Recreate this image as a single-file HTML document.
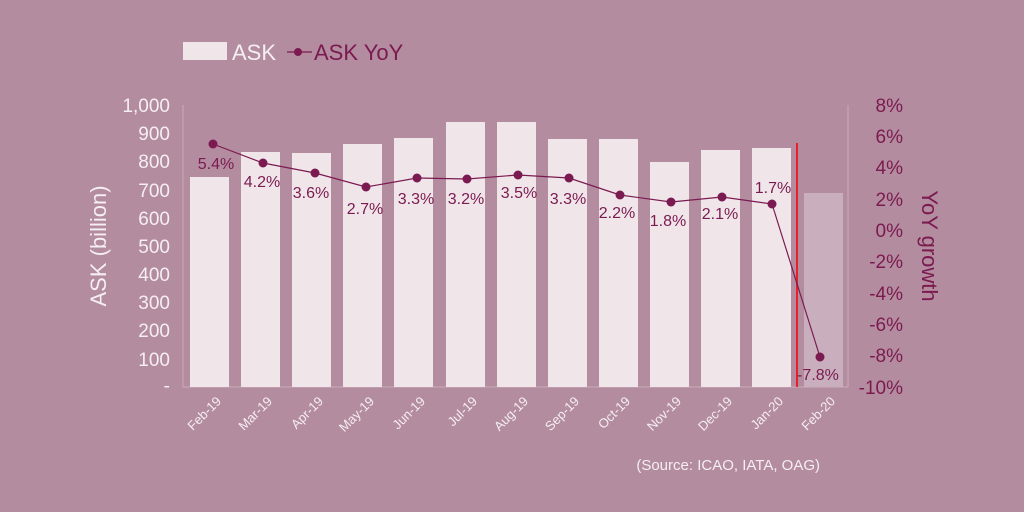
<!DOCTYPE html><html><head><style>body{margin:0}svg{display:block}text{font-family:"Liberation Sans",sans-serif}</style></head><body>
<svg width="1024" height="512" viewBox="0 0 1024 512" xmlns="http://www.w3.org/2000/svg">
<rect width="1024" height="512" fill="#b48c9f"/>
<rect x="183" y="42" width="44" height="18" fill="#f0e6ea"/>
<text x="232" y="60" font-size="22" fill="#f5eef2">ASK</text>
<line x1="287" y1="52" x2="312" y2="52" stroke="#7b1a50" stroke-width="1.2"/><circle cx="298" cy="52" r="4" fill="#7b1a50"/>
<text x="314" y="60" font-size="22" fill="#7b1a50">ASK YoY</text>
<g stroke="#c9acba" stroke-width="1">
<line x1="183" y1="105" x2="183" y2="387"/><line x1="848" y1="105" x2="848" y2="387"/><line x1="183" y1="387" x2="848" y2="387"/>
</g>
<g font-size="19" fill="#f5eef2" text-anchor="end">
<text x="170" y="112">1,000</text><text x="170" y="140">900</text><text x="170" y="168">800</text><text x="170" y="197">700</text><text x="170" y="225">600</text><text x="170" y="253">500</text><text x="170" y="281">400</text><text x="170" y="309">300</text><text x="170" y="337">200</text><text x="170" y="366">100</text><text x="170" y="392">-</text>
</g>
<g font-size="19" fill="#7b1a50" text-anchor="end">
<text x="903" y="112">8%</text><text x="903" y="143">6%</text><text x="903" y="174">4%</text><text x="903" y="206">2%</text><text x="903" y="237">0%</text><text x="903" y="268">-2%</text><text x="903" y="300">-4%</text><text x="903" y="331">-6%</text><text x="903" y="362">-8%</text><text x="903" y="394">-10%</text>
</g>
<text transform="translate(106,246) rotate(-90)" font-size="22" fill="#f5eef2" text-anchor="middle">ASK (billion)</text>
<text transform="translate(922,246) rotate(90)" font-size="22" fill="#7b1a50" text-anchor="middle">YoY growth</text>
<g fill="#f0e6ea">
<rect x="190" y="177" width="39" height="210"/>
<rect x="241" y="152" width="39" height="235"/>
<rect x="292" y="153" width="39" height="234"/>
<rect x="343" y="144" width="39" height="243"/>
<rect x="394" y="138" width="39" height="249"/>
<rect x="446" y="122" width="39" height="265"/>
<rect x="497" y="122" width="39" height="265"/>
<rect x="548" y="139" width="39" height="248"/>
<rect x="599" y="139" width="39" height="248"/>
<rect x="650" y="162" width="39" height="225"/>
<rect x="701" y="150" width="39" height="237"/>
<rect x="752" y="148" width="39" height="239"/>
<rect x="804" y="193" width="39" height="194" fill="#c9afbd"/>
</g>
<line x1="797" y1="143" x2="797" y2="387" stroke="#e8202a" stroke-width="2"/>
<polyline fill="none" stroke="#7b1a50" stroke-width="1.2" points="213,144 263,163 315,173 366,187 417,178 467,179 518,175 569,178 620,195 671,202 722,197 772,204 820,357"/>
<g fill="#7b1a50">
<circle cx="213" cy="144" r="4.5"/><circle cx="263" cy="163" r="4.5"/><circle cx="315" cy="173" r="4.5"/><circle cx="366" cy="187" r="4.5"/><circle cx="417" cy="178" r="4.5"/><circle cx="467" cy="179" r="4.5"/><circle cx="518" cy="175" r="4.5"/><circle cx="569" cy="178" r="4.5"/><circle cx="620" cy="195" r="4.5"/><circle cx="671" cy="202" r="4.5"/><circle cx="722" cy="197" r="4.5"/><circle cx="772" cy="204" r="4.5"/><circle cx="820" cy="357" r="4.5"/>
</g>
<g font-size="16" fill="#7b1a50" text-anchor="middle">
<text x="216" y="169">5.4%</text><text x="262" y="187">4.2%</text><text x="311" y="198">3.6%</text><text x="365" y="214">2.7%</text><text x="416" y="204">3.3%</text><text x="466" y="204">3.2%</text><text x="519" y="198">3.5%</text><text x="568" y="204">3.3%</text><text x="617" y="218">2.2%</text><text x="668" y="226">1.8%</text><text x="720" y="219">2.1%</text><text x="773" y="193">1.7%</text><text x="818" y="380">-7.8%</text>
</g>
<g font-size="13" fill="#f5eef2" text-anchor="end">
<text transform="translate(222,402) rotate(-45)">Feb-19</text>
<text transform="translate(273,402) rotate(-45)">Mar-19</text>
<text transform="translate(324,402) rotate(-45)">Apr-19</text>
<text transform="translate(375,402) rotate(-45)">May-19</text>
<text transform="translate(426,402) rotate(-45)">Jun-19</text>
<text transform="translate(478,402) rotate(-45)">Jul-19</text>
<text transform="translate(529,402) rotate(-45)">Aug-19</text>
<text transform="translate(580,402) rotate(-45)">Sep-19</text>
<text transform="translate(631,402) rotate(-45)">Oct-19</text>
<text transform="translate(682,402) rotate(-45)">Nov-19</text>
<text transform="translate(733,402) rotate(-45)">Dec-19</text>
<text transform="translate(784,402) rotate(-45)">Jan-20</text>
<text transform="translate(836,402) rotate(-45)">Feb-20</text>
</g>
<text x="820" y="470" font-size="15" fill="#f5eef2" text-anchor="end">(Source: ICAO, IATA, OAG)</text>
</svg></body></html>
